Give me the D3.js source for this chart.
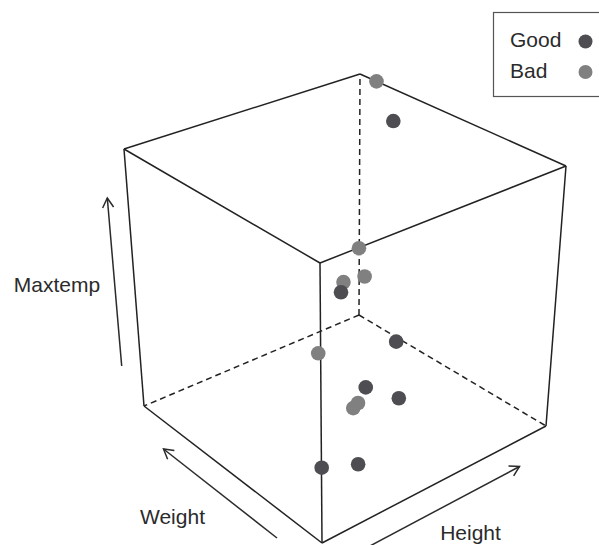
<!DOCTYPE html>
<html>
<head>
<meta charset="utf-8">
<script src="https://cdn.jsdelivr.net/npm/d3@7"></script>
<style>
  html, body { margin: 0; padding: 0; background: #fff; }
  svg { display: block; }
  text { font-family: "Liberation Sans", Arial, Helvetica, sans-serif; fill: #2b2b2b; }
</style>
</head>
<body>
<svg id="chart" width="599" height="545"></svg>
<script>
// Observations
const weight  = [86.8, 81.6, 52.8, 68.8, 58.4, 75.6, 71.0, 70.4, 67.2, 64.6, 59.8, 61.8, 61.0, 60.8];
const height  = [190.0, 188.4, 158.6, 172.8, 160.6, 174.4, 180.4, 166.0, 171.8, 175.6, 164.3, 165.1, 158.8, 165.2];
const maxtemp = [40, 38, 39, 31, 35, 28, 24, 26, 23, 22, 25, 24, 21, 20];
const quality = ["Bad", "Good", "Bad", "Bad", "Bad", "Good", "Good", "Bad", "Good", "Good", "Bad", "Bad", "Good", "Good"];

// Axis ranges and legend entries
const weightDomain  = [50, 90];
const heightDomain  = [150, 190];
const maxtempDomain = [20, 40];
const groups = ["Good", "Bad"];
const groupColors = ["#4d4d52", "#808080"];

const svg = d3.select("#chart");

const sw = d3.scaleLinear().domain(weightDomain).range([0, 1]);
const sh = d3.scaleLinear().domain(heightDomain).range([0, 1]);
const st = d3.scaleLinear().domain(maxtempDomain).range([0, 1]);
const color = d3.scaleOrdinal().domain(groups).range(groupColors);

// Screen positions of the box corners, indexed [weight][height][maxtemp] in {0,1}
const corner = {
  "000": [322, 543], "100": [144, 406], "010": [546, 426], "110": [359, 315],
  "001": [320, 263], "101": [124, 149], "011": [566, 166], "111": [360, 74]
};
const lerp = (a, b, f) => [a[0] + (b[0] - a[0]) * f, a[1] + (b[1] - a[1]) * f];

// Trilinear projection of the unit box onto the page
function project(u, v, w) {
  const c = k => corner[k];
  const b0 = lerp(lerp(c("000"), c("100"), u), lerp(c("010"), c("110"), u), v);
  const b1 = lerp(lerp(c("001"), c("101"), u), lerp(c("011"), c("111"), u), v);
  return lerp(b0, b1, w);
}

// Box edges; the three meeting at the far bottom corner are hidden (dashed)
const edges = [
  ["001", "101", false], ["101", "111", false], ["111", "011", false], ["011", "001", false],
  ["000", "001", false], ["100", "101", false], ["010", "011", false],
  ["000", "100", false], ["000", "010", false],
  ["110", "100", true], ["110", "010", true], ["110", "111", true]
];
const toUnit = k => k.split("").map(Number);
const line = d3.line();

svg.append("g").selectAll("path").data(edges).join("path")
  .attr("d", e => line([project(...toUnit(e[0])), project(...toUnit(e[1]))]))
  .attr("fill", "none")
  .attr("stroke", "#222")
  .attr("stroke-width", 1.5)
  .attr("stroke-dasharray", e => e[2] ? "6,4" : null);

// Axis direction arrows with labels
function arrow(x1, y1, x2, y2) {
  const g = svg.append("g").attr("stroke", "#2b2b2b").attr("stroke-width", 1.5).attr("fill", "none");
  g.append("line").attr("x1", x1).attr("y1", y1).attr("x2", x2).attr("y2", y2);
  const ang = Math.atan2(y2 - y1, x2 - x1);
  const len = 11, spread = Math.PI / 6;
  const head = [
    [x2 - len * Math.cos(ang - spread), y2 - len * Math.sin(ang - spread)],
    [x2, y2],
    [x2 - len * Math.cos(ang + spread), y2 - len * Math.sin(ang + spread)]
  ];
  g.append("path").attr("d", line(head));
}
arrow(121.7, 366, 107.3, 198);
arrow(277, 538, 163.5, 449);
arrow(368, 547, 519.5, 466.5);

svg.append("text").attr("x", 57).attr("y", 291.5).attr("text-anchor", "middle")
  .attr("font-size", 21).text("Maxtemp");
svg.append("text").attr("x", 172.5).attr("y", 524).attr("text-anchor", "middle")
  .attr("font-size", 21).text("Weight");
svg.append("text").attr("x", 470.5).attr("y", 540).attr("text-anchor", "middle")
  .attr("font-size", 21).text("Height");

// Points: Bad first, then Good on top
const pts = weight.map((d, i) => ({
  w: d, h: height[i], t: maxtemp[i], q: quality[i]
}));
const order = pts.slice().sort((a, b) => (a.q === "Bad" ? 0 : 1) - (b.q === "Bad" ? 0 : 1));

svg.append("g").selectAll("circle").data(order).join("circle")
  .attr("cx", d => project(sw(d.w), sh(d.h), st(d.t))[0])
  .attr("cy", d => project(sw(d.w), sh(d.h), st(d.t))[1])
  .attr("r", 7.3)
  .attr("fill", d => color(d.q));

// Legend
const legend = svg.append("g");
legend.append("rect")
  .attr("x", 493.5).attr("y", 12.5).attr("width", 120).attr("height", 84)
  .attr("fill", "#fff").attr("stroke", "#555").attr("stroke-width", 1.2);
const item = legend.selectAll("g.item").data(groups).join("g").attr("class", "item");
item.append("text")
  .attr("x", 510).attr("y", (d, i) => 47 + i * 31)
  .attr("font-size", 21).text(d => d);
item.append("circle")
  .attr("cx", 585.5).attr("cy", (d, i) => 41.5 + i * 30.5)
  .attr("r", 7).attr("fill", d => color(d));
</script>
</body>
</html>
